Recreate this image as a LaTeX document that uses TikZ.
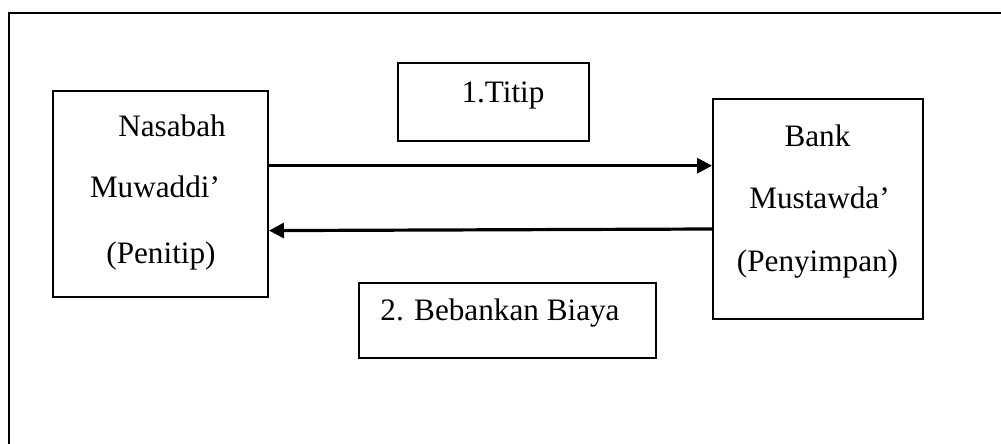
\documentclass[tikz,border=0pt]{standalone}
\usepackage{fontspec}
\setmainfont{Liberation Serif}
\usetikzlibrary{arrows.meta,calc}
\tikzset{
  boxnode/.style={draw=black, line width=1pt, rectangle, inner sep=0pt},
  lbl/.style={anchor=base, inner sep=0pt, font=\fontsize{15.6}{18}\selectfont},
  arr/.style={line width=1.6pt, -{Triangle[length=7.5pt,width=7.5pt]}},
  frameline/.style={line width=1pt}
}
\begin{document}
\begin{tikzpicture}[x=0.5pt,y=-0.5pt]
\useasboundingbox (0,0) rectangle (1001,444);
% outer frame (open at bottom and right)
\draw[frameline] (9,450) -- (9,13) -- (1010,13);
% boxes
\node[boxnode, minimum width=107.5pt, minimum height=103pt] (nas) at (160.5,194) {};
\node[boxnode, minimum width=105pt, minimum height=110pt] (bank) at (818,209) {};
\node[boxnode, minimum width=95.5pt, minimum height=39pt] (titip) at (493.5,102) {};
\node[boxnode, minimum width=148.5pt, minimum height=37.5pt] (biaya) at (507.5,320.5) {};
% texts
\node[lbl] (nas1) at (172,136.7) {Nasabah};
\node[lbl] (nas2) at (155,197.7) {Muwaddi’};
\node[lbl] (nas3) at (161,263) {(Penitip)};
\node[lbl] (bank1) at (817.5,146.7) {Bank};
\node[lbl] (bank2) at (819.5,208) {Mustawda’};
\node[lbl] (bank3) at (817.5,271.7) {(Penyimpan)};
\node[lbl] (titipt) at (503,103) {1.Titip};
\node[lbl] (biayat) at (500,320) {2. Bebankan Biaya};
% arrows
\draw[arr] ([yshift=14.15pt]nas.east) -- ([yshift=14.15pt]nas.east -| bank.west);
\draw[arr] ([yshift=-10pt]bank.west) -- ([yshift=-18.3pt]nas.east);
\end{tikzpicture}
\end{document}
